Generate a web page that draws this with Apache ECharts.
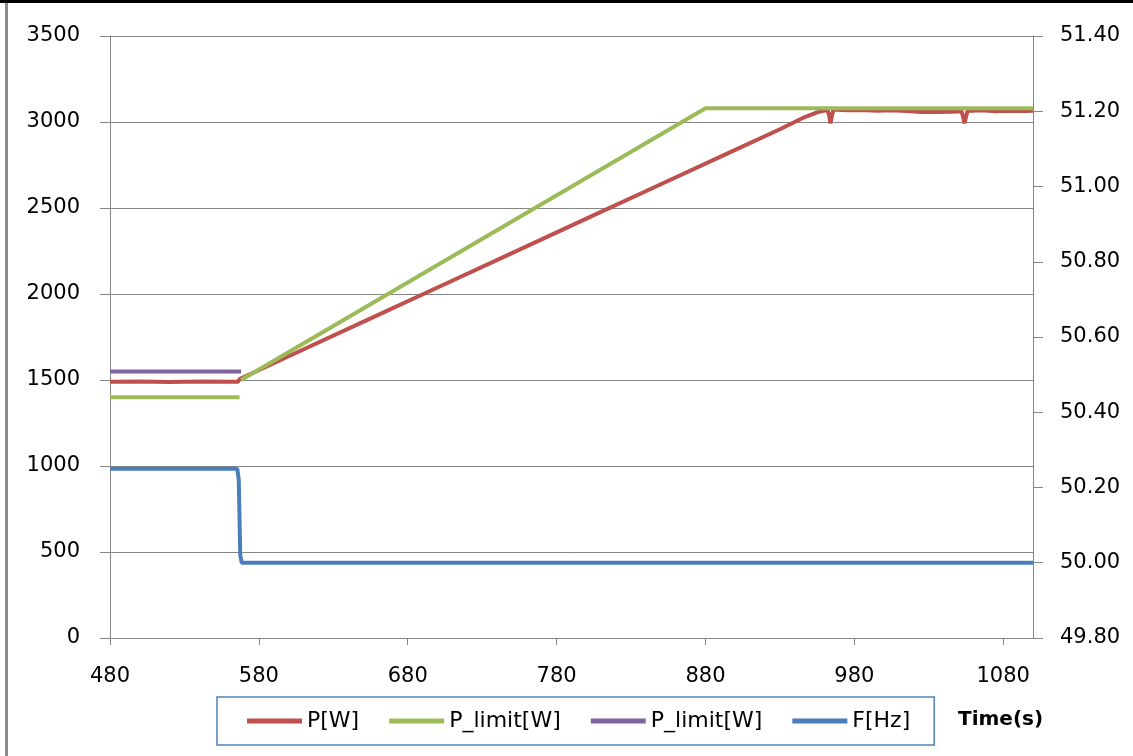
<!DOCTYPE html>
<html>
<head>
<meta charset="utf-8">
<script src="https://cdn.jsdelivr.net/npm/echarts@6/dist/echarts.min.js"></script>
<style>html,body{margin:0;padding:0;background:#fff;}#c{width:1133px;height:756px;}</style>
</head>
<body>
<div id="c"></div>
<script>
// ---- data (time in s) ----
var xTicks = [480, 580, 680, 780, 880, 980, 1080];
var leftTicks = [0, 500, 1000, 1500, 2000, 2500, 3000, 3500];
var rightTicks = [49.8, 50.0, 50.2, 50.4, 50.6, 50.8, 51.0, 51.2, 51.4];

var pW = [[480,1490],[500,1492],[520,1489],[540,1491],[566,1490],[567,1505],[568,1510],
  [600,1638],[650,1838],[700,2038],[750,2238],[800,2438],[850,2638],[900,2838],[930,2958],
  [945,3022],[955,3056],[960,3066],[962,3070],[963,3040],[964,2992],[965,3040],[966,3072],
  [975,3068],[985,3070],[995,3066],[1005,3068],[1015,3064],[1025,3058],[1035,3058],
  [1045,3060],[1052,3062],[1053,3030],[1054,2992],[1055,3030],[1056,3064],[1065,3068],
  [1075,3062],[1085,3066],[1095,3064],[1100,3065]];
var pLimitGreen = [[480,1400],[567,1400],[567.5,null],[568,1500],[880,3080],[1100,3080]];
var pLimitPurple = [[480,1550],[568,1550]];
var fHz = [[480,50.25],[565.5,50.25],[566.5,50.22],[567.5,50.02],[568.5,50.0],[1100,50.0]];

var seriesNames = ['P[W]', 'P_limit[W]', 'P_limit[W]#2', 'F[Hz]'];
var colors = ['#c0504d', '#9bbb59', '#8064a2', '#4a7ebb'];

var FONT = 'DejaVu Sans';
var GRAY = '#868686';

var chart = echarts.init(document.getElementById('c'));
chart.setOption({
  animation: false,
  color: colors,
  graphic: [
    {type:'rect', shape:{x:0,y:0,width:1133,height:3}, style:{fill:'#000'}},
    {type:'rect', shape:{x:5,y:3,width:3,height:753}, style:{fill:'#8c8c8c'}},
    {type:'text', left:958, top:710, style:{text:'Time(s)', font:'bold 20px "DejaVu Sans"', fill:'#000'}}
  ],
  grid: {left:110, right:100, top:36, bottom:118},
  legend: {
    left: 217, top: 697,
    padding: [12, 24, 12, 30],
    itemGap: 30,
    itemWidth: 55, itemHeight: 5,
    icon: 'rect',
    borderColor: '#4f81bd', borderWidth: 1.5,
    data: seriesNames,
    formatter: function (n) { return n.replace(/#2$/, ''); },
    textStyle: {fontFamily: FONT, fontSize: 22, color: '#000', lineHeight: 24}
  },
  xAxis: {
    type: 'value', min: 480, max: 1100, interval: 100,
    axisLine: {show:true, lineStyle:{color:GRAY, width:1}},
    axisTick: {show:true, length:7, lineStyle:{color:GRAY}},
    axisLabel: {showMaxLabel:false, margin:28, fontFamily:FONT, fontSize:21, color:'#000',
      formatter:function(v){return String(v);}},
    splitLine: {show:false}
  },
  yAxis: [
    {
      type:'value', min:0, max:3500, interval:500, position:'left',
      axisLine:{show:true, lineStyle:{color:GRAY, width:1}},
      axisTick:{show:true, length:10, lineStyle:{color:GRAY}},
      axisLabel:{margin:30, fontFamily:FONT, fontSize:21, color:'#000',
        formatter:function(v){return String(v);}},
      splitLine:{show:true, lineStyle:{color:GRAY, width:1}}
    },
    {
      type:'value', min:49.8, max:51.4, interval:0.2, position:'right',
      axisLine:{show:true, lineStyle:{color:GRAY, width:1}},
      axisTick:{show:true, length:10, lineStyle:{color:GRAY}},
      axisLabel:{margin:27, fontFamily:FONT, fontSize:21, color:'#000',
        formatter:function(v){return v.toFixed(2);}},
      splitLine:{show:false}
    }
  ],
  series: [
    {name:seriesNames[0], type:'line', data:pW, yAxisIndex:0, showSymbol:false, symbol:'none', lineStyle:{width:4}},
    {name:seriesNames[1], type:'line', data:pLimitGreen, yAxisIndex:0, showSymbol:false, symbol:'none', connectNulls:false, lineStyle:{width:4}},
    {name:seriesNames[2], type:'line', data:pLimitPurple, yAxisIndex:0, showSymbol:false, symbol:'none', lineStyle:{width:4}},
    {name:seriesNames[3], type:'line', data:fHz, yAxisIndex:1, showSymbol:false, symbol:'none', lineStyle:{width:4}}
  ]
});
</script>
</body>
</html>
